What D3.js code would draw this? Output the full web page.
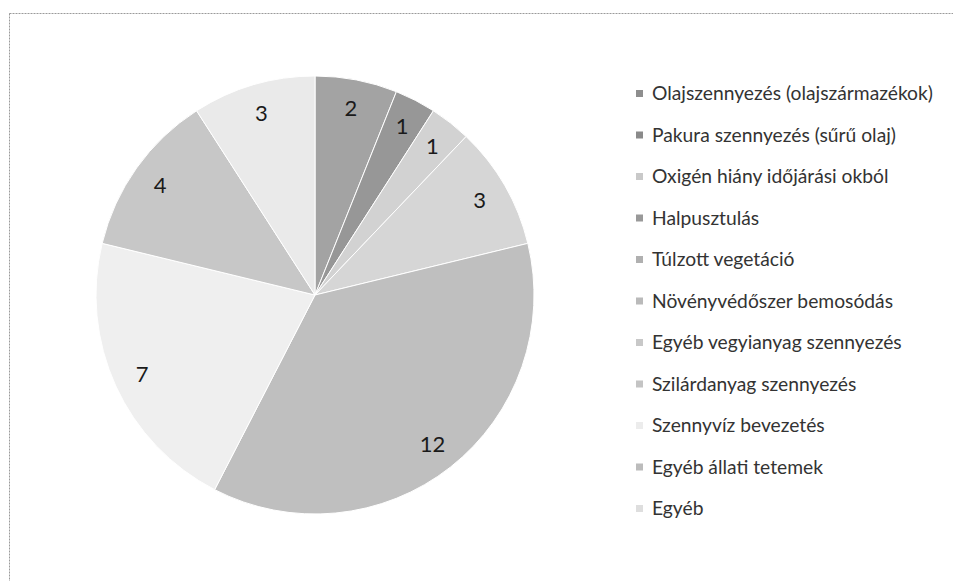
<!DOCTYPE html>
<html>
<head>
<meta charset="utf-8">
<script src="https://cdn.jsdelivr.net/npm/d3@7/dist/d3.min.js"></script>
<style>
  html, body { margin: 0; padding: 0; background: #fff; }
  svg { display: block; }
</style>
</head>
<body>
<svg id="chart" width="953" height="581"></svg>
<script>
// ---- data ----
const categories = [
  "Olajszennyezés (olajszármazékok)",
  "Pakura szennyezés (sűrű olaj)",
  "Oxigén hiány időjárási okból",
  "Halpusztulás",
  "Túlzott vegetáció",
  "Növényvédőszer bemosódás",
  "Egyéb vegyianyag szennyezés",
  "Szilárdanyag szennyezés",
  "Szennyvíz bevezetés",
  "Egyéb állati tetemek",
  "Egyéb"
];
const values = [2, 1, 1, 0, 0, 0, 3, 12, 7, 4, 3];
const sliceColors = [
  "#a3a3a3", "#979797", "#d2d2d2", "#9c9c9c", "#b4b4b4", "#bdbdbd",
  "#d6d6d6", "#bfbfbf", "#efefef", "#c7c7c7", "#eaeaea"
];
const markerColors = [
  "#8e8e8e", "#8a8a8a", "#c9c9c9", "#999999", "#b0b0b0", "#bababa",
  "#c8c8c8", "#c4c4c4", "#ececec", "#bcbcbc", "#dedede"
];

// ---- layout ----
const W = 953, H = 581;
const cx = 315, cy = 295, R = 219;
const labelR = 190;
const legendX = 636, legendTextX = 652, legendY0 = 100, legendStep = 41.5;
const fontFam = "Lato, 'Noto Sans', sans-serif";

const svg = d3.select("#chart");

// chart area border (dotted)
svg.append("rect")
  .attr("x", 9.5).attr("y", 13.5)
  .attr("width", 980).attr("height", 620)
  .attr("fill", "#fff")
  .attr("stroke", "#9a9a9a")
  .attr("stroke-width", 1)
  .attr("stroke-dasharray", "2,1");

const data = categories.map((c, i) => ({ cat: c, value: values[i], i }));

const pie = d3.pie().value(d => d.value).sort(null);
const arcs = pie(data);
const arc = d3.arc().innerRadius(0).outerRadius(R);
const labelArc = d3.arc().innerRadius(labelR).outerRadius(labelR);

const g = svg.append("g").attr("transform", `translate(${cx},${cy})`);

g.selectAll("path.slice")
  .data(arcs.filter(a => a.data.value > 0))
  .join("path")
  .attr("class", "slice")
  .attr("d", arc)
  .attr("fill", d => sliceColors[d.data.i])
  .attr("stroke", "#ffffff")
  .attr("stroke-width", 1);

g.selectAll("text.lbl")
  .data(arcs.filter(a => a.data.value > 0))
  .join("text")
  .attr("class", "lbl")
  .attr("transform", d => `translate(${labelArc.centroid(d)})`)
  .attr("text-anchor", "middle")
  .attr("dy", "0.36em")
  .attr("font-family", fontFam)
  .attr("font-size", 22)
  .attr("fill", "#1a1a1a")
  .text(d => d.data.value);

// legend
const leg = svg.append("g");
const rows = leg.selectAll("g.row")
  .data(data)
  .join("g")
  .attr("class", "row")
  .attr("transform", (d, i) => `translate(0,${legendY0 + i * legendStep})`);

rows.append("rect")
  .attr("x", legendX).attr("y", -10)
  .attr("width", 7).attr("height", 7)
  .attr("fill", d => markerColors[d.i]);

const texts = rows.append("text")
  .attr("x", legendTextX).attr("y", 0)
  .attr("font-family", fontFam)
  .attr("font-size", 18)
  .attr("fill", "#333")
  .text(d => d.cat);

// fit legend font so the first entry spans the target width
const target = 281;
const w0 = texts.node().getComputedTextLength();
const fs = 18 * target / w0;
texts.attr("font-size", fs);
</script>
</body>
</html>
